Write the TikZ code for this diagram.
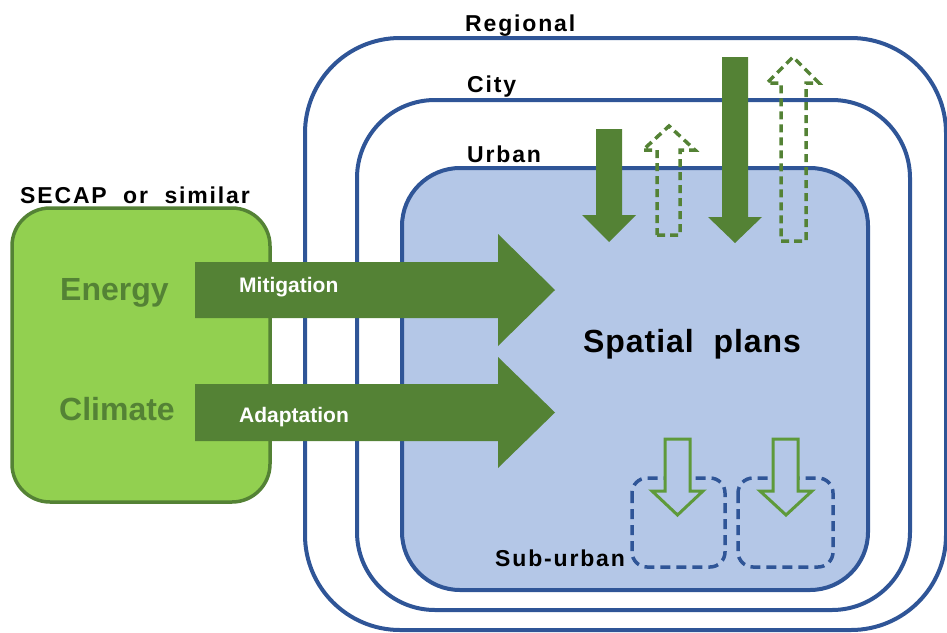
\documentclass[tikz,border=0pt]{standalone}
\usepackage{fontspec}
\setmainfont{Liberation Sans}
\newfontfamily\spacedfont[LetterSpace=8]{Liberation Sans}
\newfontfamily\lightspaced[LetterSpace=3]{Liberation Sans}
\definecolor{bblue}{HTML}{2F5597}
\definecolor{bfill}{HTML}{B4C7E7}
\definecolor{lgreen}{HTML}{92D050}
\definecolor{dgreen}{HTML}{548235}
\definecolor{tgreen}{HTML}{548235}
\definecolor{hgreen}{HTML}{5E9A3A}
\tikzset{
  levelbox/.style={draw=bblue, line width=4pt},
  lbl/.style={anchor=base west, inner sep=0pt, font=\fontsize{23}{26}\selectfont\spacedfont\bfseries},
  bigtxt/.style={anchor=base west, inner sep=0pt, font=\fontsize{32}{36}\selectfont\bfseries, text=tgreen},
  arrowtxt/.style={anchor=base west, inner sep=0pt, font=\fontsize{21}{24}\selectfont\bfseries, text=white},
  blockarrow/.style={fill=dgreen, draw=none},
  dasharrow/.style={draw=dgreen, line width=3.5pt, dash pattern=on 8pt off 5pt},
  subbox/.style={draw=bblue, line width=3.5pt, dash pattern=on 10pt off 6pt, rounded corners=15pt},
  hollowarrow/.style={draw=hgreen, line width=3pt, fill=bfill},
}
\begin{document}
\begin{tikzpicture}[x=1pt,y=-1pt]
\useasboundingbox (0,0) rectangle (947,632);
% nested levels
\draw[levelbox, rounded corners=95pt] (305,38) rectangle (946,630);
\draw[levelbox, rounded corners=78pt] (357,100) rectangle (910,610);
\draw[levelbox, fill=bfill, rounded corners=58pt] (402,168) rectangle (868,590);
% SECAP box
\draw[fill=lgreen, draw=dgreen, line width=3.5pt, rounded corners=38pt] (12,208) rectangle (270,502);
% labels
\node[lbl] (regional) at (465,31) {Regional};
\node[lbl] (city) at (467,92) {City};
\node[lbl] (urban) at (467,162) {Urban};
\node[lbl] (secap) at (20,203) {SECAP\ \ or\ \ similar};
\node[lbl] (suburban) at (495,566) {Sub-urban};
\node[bigtxt] (energy) at (60,300) {Energy};
\node[bigtxt] (climate) at (59,420) {Climate};
% big arrows
\fill[blockarrow] (195,262) -- (498,262) -- (498,234) -- (555,290) -- (498,346) -- (498,318) -- (195,318) -- cycle;
\fill[blockarrow] (195,384) -- (498,384) -- (498,357) -- (555,412.5) -- (498,468) -- (498,441) -- (195,441) -- cycle;
\node[arrowtxt] (mitig) at (239,292) {Mitigation};
\node[arrowtxt] (adapt) at (239,422) {Adaptation};
\node[anchor=base west, inner sep=0pt, font=\fontsize{32}{36}\selectfont\lightspaced\bfseries] (spatial) at (583,352) {Spatial\ \ plans};
% top arrows
\fill[blockarrow] (596,129) -- (622,129) -- (622,215) -- (636,215) -- (609,242) -- (582,215) -- (596,215) -- cycle;
\draw[dasharrow] (657,235) -- (680,235) -- (680,150) -- (695,150) -- (669,126) -- (643,150) -- (657,150) -- cycle;
\fill[blockarrow] (722,57) -- (748,57) -- (748,217) -- (762,217) -- (735,243) -- (708,217) -- (722,217) -- cycle;
\draw[dasharrow] (781,241) -- (806,241) -- (806,83) -- (819,83) -- (793,57) -- (767,83) -- (781,83) -- cycle;
% sub-urban boxes
\draw[subbox] (632,478) rectangle (725,567);
\draw[subbox] (738,478) rectangle (833,567);
\draw[hollowarrow] (665,439) -- (690,439) -- (690,491) -- (703,491) -- (677.5,515) -- (652,491) -- (665,491) -- cycle;
\draw[hollowarrow] (773,439) -- (798,439) -- (798,491) -- (812,491) -- (786,515) -- (760,491) -- (773,491) -- cycle;
\end{tikzpicture}
\end{document}
